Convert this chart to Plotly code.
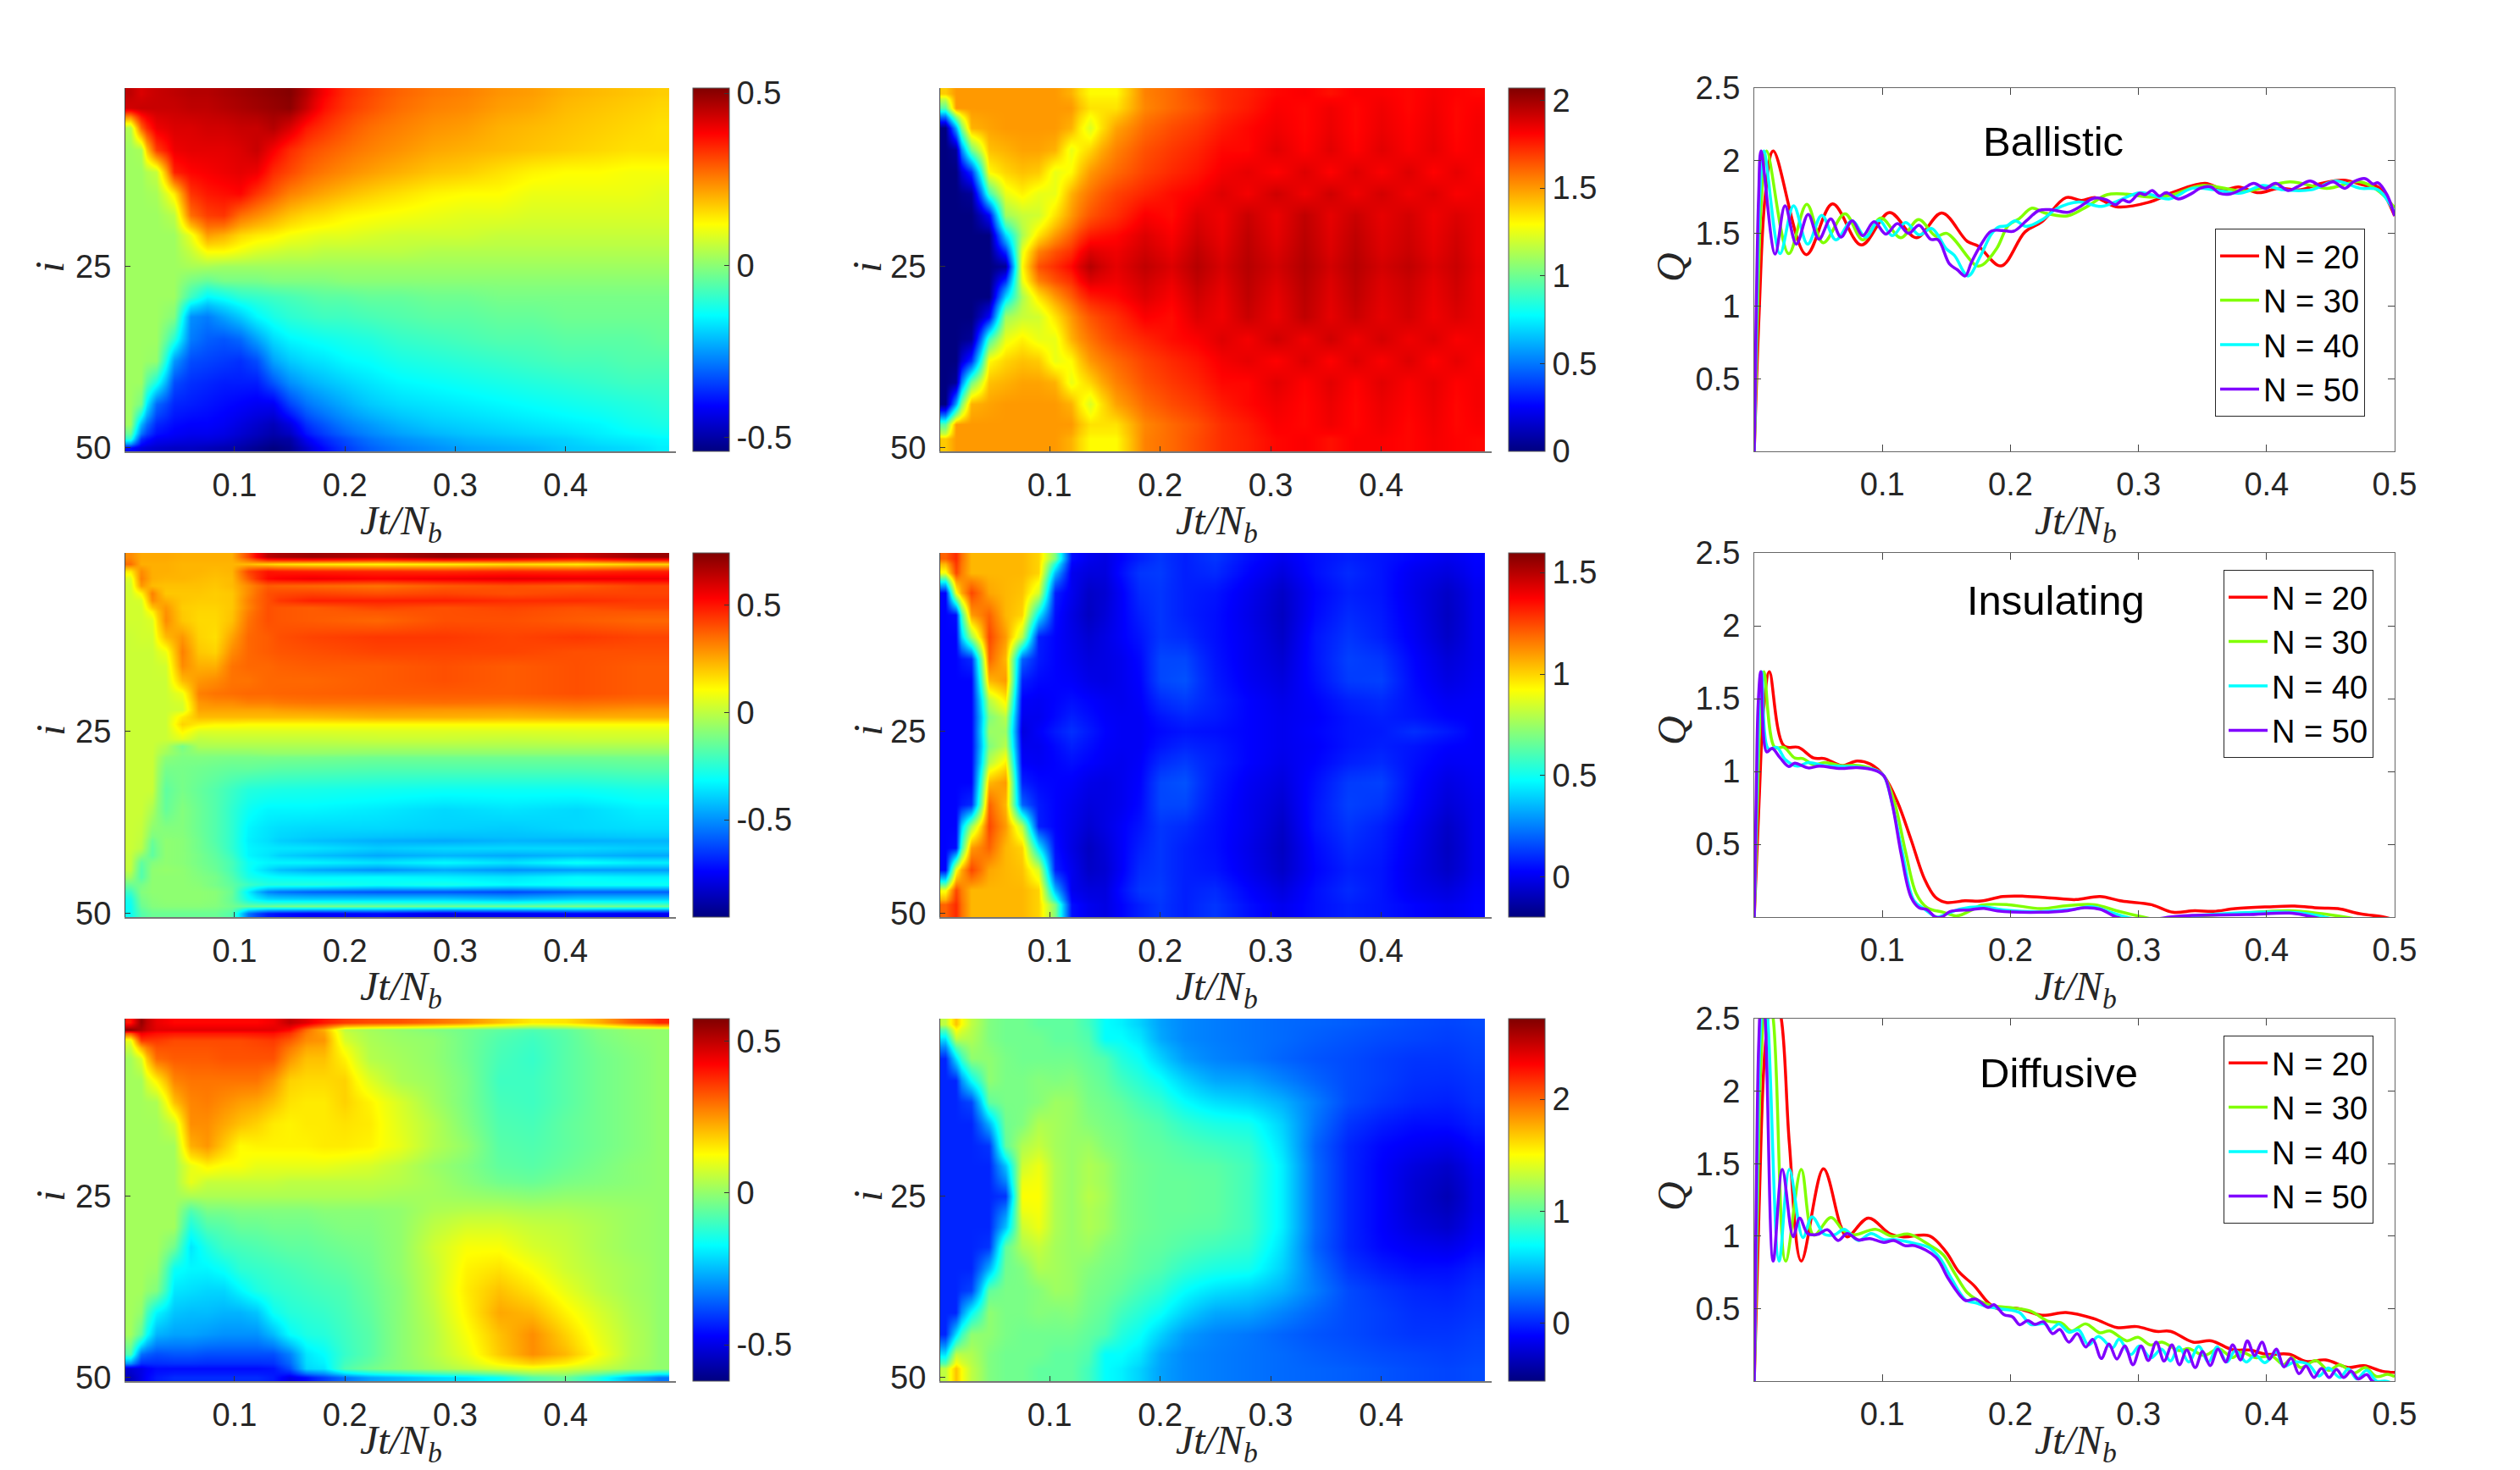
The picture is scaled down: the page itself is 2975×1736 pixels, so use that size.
import plotly.graph_objects as go

# Page and panel geometry, in pixels
W, H = 2975, 1736
ROW_SPANS = [(104, 533), (653, 1083), (1203, 1631)]
MAP_COLS = [(148, 798), (1110, 1761)]
CBAR_LEFT = [818, 1781]
LINE_COL = (2071, 2827)
X_TITLE_ROWS = [618, 1168, 1704]
X_TITLE_COLS = [473, 1436, 2450]
Y_TITLE_ROWS = [316, 863, 1413]
Y_TITLE_COLS = [59, 1024, 1973]

SANS = "Liberation Sans"
SERIF = "Liberation Serif"
INK = "#262626"

# Bin edges of the colour maps (time, then site)
TIME_EDGES = [.001, .01, .02, .0375, .0525, .0675, .0825, .0975, .1125, .1275, .1425, .1575, .1725,
              .19, .21, .235, .265, .295, .325, .355, .385, .415, .445, .475, .494]
BAL_Q_TIME_EDGES = [.001, .01, .02, .0375, .0525, .0675, .0825, .0975, .1125, .127, .147, .1735, .1985,
                    .222, .245, .267, .2915, .3185, .343, .365, .388, .4125, .436, .458, .478, .494]
SITE_EDGES = [.5, 2, 4.5, 7.5, 10.5, 13.5, 16.5, 19.5, 22, 24, 26, 28, 30.5, 33.5, 36.5, 39.5, 42.5, 45.5, 48, 49.5, 50.5]

INS_TIME_EDGES = [.001, .01, .02, .03, .045, .06, .075, .09, .105, .12, .14, .2, .26, .32, .38, .44, .494]
INS_SITE_EDGES = [.5, 1.5, 2.5, 3.5, 4.5, 5.5, 6.5, 7.5, 8.5, 11, 13, 15, 17, 19, 20.5, 21.5, 22.5, 23.5, 24.5, 25.5,
                  26.5, 27.5, 28.5, 31.5, 34.5, 37, 39.5, 40.5, 41.5, 42.5, 43.5, 44.5, 45.5, 46.5, 47.5, 48.5, 49.5, 50.5]
DIF_SITE_EDGES = [.5, 1.5, 2.5, 4.5, 7.5, 10.5, 13.5, 16.5, 19.5, 22, 24, 26, 28, 30.5, 33.5, 36.5, 39.5, 42.5, 45.5, 48, 49.5, 50.5]

# Colour map values, in hundredths
MAP_BALLISTIC_LEFT = [
    [45, 42, 44, 45, 46, 46, 47, 48, 49, 50, 51, 46, 39, 34, 31, 28, 26, 25, 23, 22, 20, 19, 18, 17],
    [43, 44, 44, 44, 45, 45, 46, 47, 48, 49, 50, 44, 37, 33, 30, 27, 25, 24, 22, 21, 19, 18, 17, 16],
    [4, 28, 40, 42, 42, 43, 43, 44, 44, 46, 42, 36, 33, 30, 27, 25, 23, 22, 20, 19, 18, 17, 16, 15],
    [2, 3, 32, 40, 41, 41, 41, 42, 44, 39, 34, 31, 29, 27, 25, 23, 21, 20, 19, 18, 17, 16, 15, 15],
    [2, 2, 6, 35, 38, 39, 40, 41, 40, 34, 31, 28, 26, 24, 22, 20, 18, 17, 15, 13, 12, 12, 11, 11],
    [2, 2, 3, 14, 33, 36, 37, 38, 33, 29, 25, 23, 21, 19, 17, 15, 13, 12, 12, 10, 10, 10, 10, 9],
    [2, 2, 2, 5, 27, 32, 33, 27, 24, 21, 18, 16, 15, 13, 12, 11, 10, 9, 9, 8, 8, 8, 8, 8],
    [2, 2, 2, 2, 10, 22, 20, 16, 14, 13, 11, 10, 9, 9, 8, 7, 7, 7, 6, 6, 6, 6, 6, 6],
    [2, 2, 2, 2, 6, 12, 12, 10, 8, 7, 6, 6, 5, 5, 5, 5, 4, 4, 4, 4, 4, 4, 4, 4],
    [2, 2, 2, 2, 3, 3, 2, 2, 2, 2, 2, 2, 2, 2, 2, 2, 2, 2, 2, 2, 2, 2, 2, 2],
    [2, 2, 2, 2, -2, -4, -2, -2, -2, -1, -1, -1, -1, 0, 0, 0, 0, 0, 0, 0, 0, 0, 0, 0],
    [2, 2, 2, 2, -8, -15, -13, -10, -9, -8, -7, -6, -5, -5, -4, -4, -3, -3, -2, -2, -2, -2, -2, -2],
    [2, 2, 2, -1, -26, -28, -24, -20, -15, -12, -10, -9, -8, -8, -7, -6, -5, -5, -4, -4, -3, -3, -3, -3],
    [2, 2, 2, -10, -28, -31, -32, -30, -24, -18, -15, -14, -13, -12, -11, -9, -8, -7, -6, -6, -5, -5, -5, -4],
    [2, 2, 1, -25, -33, -34, -35, -36, -33, -24, -20, -18, -17, -15, -14, -12, -11, -10, -9, -8, -7, -7, -6, -6],
    [2, 2, -12, -33, -36, -37, -38, -38, -38, -32, -26, -23, -21, -19, -17, -15, -14, -13, -12, -11, -10, -9, -8, -8],
    [2, -2, -30, -37, -38, -39, -40, -41, -42, -42, -34, -29, -26, -23, -20, -18, -17, -16, -15, -14, -13, -12, -11, -10],
    [2, -22, -37, -40, -41, -41, -42, -44, -46, -48, -44, -36, -32, -28, -25, -22, -20, -19, -18, -17, -16, -15, -13, -12],
    [-10, -36, -42, -43, -44, -44, -45, -47, -49, -51, -50, -42, -37, -33, -29, -26, -24, -22, -21, -20, -19, -17, -16, -15],
    [-40, -44, -46, -47, -47, -48, -49, -50, -52, -54, -52, -46, -40, -35, -31, -28, -26, -24, -23, -22, -20, -19, -18, -16],
]

# Upper half plus centre row; these maps are mirror-symmetric about the centre site
MAP_BALLISTIC_Q_UPPER = [
    [140, 150, 150, 150, 150, 150, 150, 150, 145, 130, 130, 155, 160, 166, 172, 175, 180, 182, 178, 182, 182, 180, 183, 181, 180],
    [95, 150, 150, 150, 150, 150, 150, 150, 150, 135, 135, 154, 160, 165, 172, 176, 182, 180, 184, 180, 184, 180, 184, 180, 182],
    [0, 60, 145, 148, 150, 150, 150, 150, 145, 122, 148, 160, 166, 170, 176, 180, 184, 180, 185, 180, 185, 181, 185, 180, 183],
    [0, 5, 100, 142, 145, 148, 148, 145, 125, 138, 155, 165, 170, 174, 180, 180, 187, 181, 187, 181, 187, 182, 186, 181, 183],
    [0, 0, 35, 130, 138, 142, 140, 125, 130, 150, 160, 168, 173, 177, 183, 186, 181, 188, 181, 188, 182, 188, 181, 186, 182],
    [0, 0, 5, 90, 125, 132, 125, 125, 145, 158, 168, 174, 179, 182, 188, 183, 191, 184, 191, 184, 190, 184, 188, 182, 184],
    [0, 0, 0, 25, 110, 118, 120, 135, 150, 164, 172, 182, 179, 188, 184, 192, 185, 194, 186, 192, 186, 190, 184, 188, 185],
    [0, 0, 0, 0, 70, 112, 135, 150, 162, 176, 180, 188, 182, 191, 185, 194, 186, 195, 187, 194, 187, 191, 185, 190, 185],
    [0, 0, 0, 0, 35, 125, 155, 165, 172, 188, 184, 191, 185, 194, 187, 195, 188, 196, 188, 195, 188, 192, 186, 191, 185],
    [0, 0, 0, 0, 5, 130, 165, 172, 180, 196, 186, 194, 188, 196, 189, 196, 190, 197, 190, 196, 190, 194, 188, 192, 186],
]

MAP_INSULATING_LEFT = [
    [30, 25, 25, 25, 24, 24, 24, 24, 42, 65, 70, 66, 72, 68, 62, 70],
    [35, 24, 24, 24, 23, 23, 23, 23, 22, 18, 14, 12, 13, 16, 14, 18],
    [14, 30, 24, 24, 23, 23, 22, 23, 42, 50, 48, 47, 46, 47, 46, 48],
    [5, 32, 24, 23, 23, 22, 21, 22, 38, 52, 56, 54, 56, 58, 57, 56],
    [3, 28, 22, 21, 21, 21, 20, 22, 30, 38, 36, 34, 38, 40, 38, 42],
    [3, 12, 32, 20, 20, 20, 19, 20, 30, 40, 42, 40, 42, 40, 42, 42],
    [3, 4, 30, 24, 20, 19, 19, 20, 32, 40, 48, 48, 48, 46, 46, 44],
    [3, 3, 20, 28, 19, 18, 18, 20, 31, 40, 38, 42, 40, 42, 40, 42],
    [3, 3, 5, 30, 20, 17, 17, 21, 34, 40, 38, 36, 40, 40, 38, 36],
    [2, 3, 3, 22, 28, 18, 16, 26, 36, 38, 42, 44, 44, 42, 44, 42],
    [2, 2, 2, 8, 32, 20, 18, 30, 36, 38, 40, 42, 42, 42, 40, 40],
    [2, 2, 2, 3, 30, 24, 24, 34, 36, 36, 38, 38, 40, 38, 40, 38],
    [2, 2, 2, 2, 22, 28, 30, 34, 34, 36, 36, 38, 40, 38, 40, 38],
    [2, 2, 2, 2, 8, 32, 34, 35, 36, 36, 37, 38, 38, 38, 40, 38],
    [2, 2, 2, 2, 4, 28, 30, 30, 32, 32, 34, 34, 35, 34, 35, 34],
    [2, 2, 2, 2, 3, 26, 26, 26, 26, 26, 28, 29, 28, 28, 30, 28],
    [2, 2, 2, 2, 14, 22, 22, 22, 22, 22, 22, 24, 24, 23, 24, 24],
    [2, 2, 2, 2, 18, 14, 12, 12, 11, 11, 11, 11, 11, 11, 11, 11],
    [2, 2, 2, 2, 12, 5, 5, 5, 5, 5, 5, 5, 5, 5, 5, 5],
    [2, 2, 2, 2, 6, 0, 1, 1, 1, 1, 1, 2, 2, 1, 2, 2],
    [2, 2, 2, -2, -12, -3, -3, -3, -3, -3, -3, -3, -3, -3, -3, -3],
    [2, 2, 2, -5, -10, -8, -8, -8, -8, -7, -7, -8, -8, -8, -8, -8],
    [2, 2, 2, -12, -12, -13, -14, -15, -15, -16, -17, -18, -18, -18, -18, -17],
    [2, 2, 2, -16, -12, -15, -18, -22, -26, -27, -28, -29, -30, -30, -30, -28],
    [2, 2, -3, -15, -10, -14, -18, -24, -30, -33, -33, -35, -38, -36, -38, -34],
    [2, 1, -8, -10, -10, -14, -18, -24, -33, -36, -38, -38, -39, -40, -38, -37],
    [2, 0, -14, -8, -9, -13, -18, -24, -34, -37, -42, -45, -46, -44, -45, -44],
    [2, -1, -16, -8, -9, -13, -17, -24, -33, -35, -36, -40, -38, -38, -38, -40],
    [1, -8, -16, -8, -9, -12, -16, -22, -33, -36, -42, -46, -44, -46, -44, -46],
    [1, -16, -10, -8, -9, -12, -15, -20, -30, -33, -33, -36, -32, -36, -30, -34],
    [0, -18, -8, -7, -8, -11, -14, -20, -30, -38, -46, -50, -46, -50, -48, -48],
    [-5, -18, -8, -8, -8, -10, -12, -18, -28, -31, -33, -32, -34, -36, -32, -34],
    [-14, -12, -8, -8, -8, -9, -12, -16, -22, -26, -26, -30, -28, -32, -30, -30],
    [-22, -10, -8, -8, -8, -8, -9, -14, -34, -52, -58, -60, -60, -62, -58, -58],
    [-28, -12, -9, -8, -8, -8, -9, -15, -30, -38, -40, -40, -40, -44, -40, -40],
    [-30, -14, -10, -9, -9, -9, -10, -13, -15, -14, -12, -13, -14, -14, -12, -14],
    [-30, -18, -14, -14, -14, -14, -14, -18, -55, -70, -75, -73, -78, -76, -74, -76],
]

MAP_INSULATING_Q_UPPER = [
    [120, 130, 105, 105, 105, 105, 100, 70, 5, 0, -2, 3, 8, 12, 8, 12, 5, 0, 5, 8, 6, 3, 0, 3],
    [90, 125, 105, 105, 105, 105, 100, 35, 0, -3, -3, 5, 12, 13, 8, 10, 3, -3, 5, 10, 6, 0, -3, 2],
    [3, 90, 125, 108, 105, 103, 85, 8, 0, -7, -5, 2, 10, 12, 8, 6, 0, -7, 3, 8, 6, -1, -7, 0],
    [3, 5, 110, 120, 105, 100, 45, 5, -2, -8, -4, 2, 8, 12, 8, 5, -1, -8, 4, 10, 7, 0, -8, 0],
    [3, 3, 75, 125, 110, 80, 8, 3, -1, -5, -2, 2, 6, 12, 10, 5, 0, -7, 6, 12, 8, 1, -7, 0],
    [3, 3, 10, 120, 105, 20, 7, 3, 0, -3, -2, 0, 4, 15, 15, 6, 0, -5, 6, 14, 12, 3, -4, 0],
    [3, 3, 3, 105, 110, 8, 4, 3, 2, -1, -2, 0, 3, 15, 17, 7, 1, -3, 5, 13, 14, 4, -2, 1],
    [3, 3, 3, 80, 95, 2, 1, 3, 5, 3, 1, 0, 2, 10, 13, 8, 3, -1, 3, 8, 10, 5, 1, 2],
    [3, 3, 3, 70, 80, 0, 0, 4, 8, 5, 2, 1, 1, 6, 9, 7, 3, 0, 2, 6, 8, 6, 3, 2],
    [3, 3, 3, 75, 75, -3, 2, 7, 11, 7, 3, 1, 1, 4, 6, 5, 3, 0, 3, 6, 7, 11, 7, 2],
]

MAP_DIFFUSIVE_LEFT = [
    [40, 55, 45, 42, 42, 42, 42, 42, 42, 44, 50, 46, 40, 36, 34, 33, 30, 26, 20, 15, 16, 22, 32, 38],
    [56, 52, 46, 46, 46, 46, 46, 46, 46, 46, 42, 30, 22, 5, 2, 0, -2, -4, -6, -8, -6, -2, 0, 0],
    [10, 36, 36, 34, 34, 34, 34, 34, 35, 36, 32, 26, 25, 8, 3, 1, 0, -4, -8, -10, -7, -3, -1, 0],
    [2, 8, 30, 32, 32, 32, 33, 33, 33, 33, 25, 20, 20, 14, 4, 2, 0, -4, -9, -11, -7, -4, -2, 0],
    [2, 2, 14, 27, 29, 29, 29, 29, 29, 25, 18, 17, 17, 18, 9, 3, 1, -3, -10, -10, -7, -4, -2, 0],
    [2, 2, 3, 20, 27, 28, 26, 24, 23, 20, 16, 15, 15, 18, 14, 8, 2, -3, -9, -10, -7, -4, -2, 0],
    [2, 2, 2, 7, 26, 26, 23, 20, 18, 15, 14, 15, 15, 16, 15, 9, 4, -2, -8, -9, -6, -4, -2, 0],
    [2, 2, 2, 2, 22, 25, 19, 13, 14, 14, 14, 14, 15, 15, 14, 10, 4, 0, -7, -8, -6, -4, -2, 0],
    [2, 2, 2, 2, 10, 14, 12, 12, 10, 10, 10, 10, 10, 9, 8, 5, 1, -2, -6, -7, -5, -3, -1, 0],
    [2, 2, 2, 2, 10, 6, 6, 6, 6, 6, 5, 5, 5, 5, 5, 4, 2, -1, -4, -5, -3, -2, -1, 0],
    [2, 2, 2, 2, 3, 3, 3, 3, 3, 3, 3, 3, 3, 3, 3, 2, 2, 1, 0, -1, 0, 0, 0, 0],
    [2, 2, 2, 2, -8, -3, -3, -2, -2, -2, -2, -2, -1, -1, -1, 0, 3, 4, 4, 3, 3, 2, 1, 0],
    [2, 2, 2, 2, -14, -8, -7, -5, -5, -4, -4, -4, -3, -2, -2, 0, 5, 8, 8, 6, 5, 3, 1, 0],
    [2, 2, 2, -4, -20, -14, -10, -9, -8, -7, -6, -6, -5, -4, -3, 0, 7, 12, 12, 8, 6, 3, 1, 0],
    [2, 2, 1, -16, -18, -18, -16, -12, -11, -10, -9, -8, -7, -6, -4, 0, 6, 14, 16, 12, 7, 4, 2, 0],
    [2, 2, -2, -20, -21, -22, -22, -18, -14, -12, -11, -10, -9, -8, -5, -1, 6, 15, 20, 16, 10, 5, 2, 0],
    [2, 0, -18, -24, -25, -25, -26, -26, -24, -16, -13, -12, -11, -9, -6, -1, 5, 14, 23, 21, 14, 8, 3, 0],
    [2, -6, -26, -28, -28, -29, -30, -30, -30, -25, -17, -14, -13, -10, -7, -1, 4, 12, 20, 26, 18, 10, 4, 0],
    [-8, -34, -38, -37, -37, -38, -38, -38, -38, -38, -32, -20, -17, -11, -7, -1, 4, 10, 19, 26, 21, 12, 4, 0],
    [-52, -50, -46, -46, -46, -46, -46, -46, -46, -45, -38, -22, -20, -8, -4, -1, 2, 5, 8, 10, 8, 5, 2, 0],
    [-55, -50, -44, -42, -42, -42, -42, -42, -42, -44, -50, -46, -40, -34, -28, -25, -22, -20, -16, -8, -5, -14, -26, -33],
]

MAP_DIFFUSIVE_Q_UPPER = [
    [130, 170, 130, 110, 105, 105, 100, 100, 100, 90, 70, 65, 55, 40, 32, 28, 25, 22, 20, 18, 15, 12, 10, 12],
    [60, 130, 125, 110, 105, 105, 105, 100, 100, 95, 70, 70, 62, 42, 32, 28, 25, 22, 18, 15, 12, 10, 8, 10],
    [0, 60, 115, 115, 108, 105, 105, 105, 105, 100, 95, 80, 72, 55, 38, 30, 26, 20, 15, 12, 8, 5, 5, 8],
    [0, 0, 70, 115, 108, 108, 112, 110, 112, 105, 100, 90, 82, 72, 55, 42, 40, 30, 20, 12, 8, 3, 2, 5],
    [0, 0, 10, 100, 108, 108, 112, 120, 118, 108, 105, 100, 92, 85, 70, 60, 55, 45, 28, 12, 5, 0, -2, 3],
    [0, 0, 0, 45, 105, 110, 125, 122, 118, 112, 108, 105, 100, 95, 85, 78, 75, 55, 25, 5, -3, -8, -8, -2],
    [0, 0, 0, 5, 100, 125, 132, 122, 118, 120, 112, 108, 102, 100, 95, 90, 85, 60, 20, 0, -10, -15, -18, -10],
    [0, 0, 0, 0, 50, 135, 145, 125, 118, 125, 120, 110, 105, 102, 100, 98, 90, 65, 22, 0, -12, -22, -28, -15],
    [0, 0, 0, 0, 30, 145, 148, 125, 118, 125, 120, 110, 105, 102, 102, 100, 90, 65, 22, 0, -12, -25, -32, -18],
    [0, 0, 0, 0, 5, 150, 150, 125, 118, 128, 122, 110, 105, 102, 102, 100, 90, 65, 22, 0, -12, -25, -35, -18],
]

# Q(Jt/Nb) curves: (Jt/Nb, Q) samples for each system size
BALLISTIC_N20 = [(0, 0), (.0038, .95), (.0085, 1.75), (.0148, 2.067), (.0406, 1.354), (.0611, 1.703), (.0836, 1.42), (.1056, 1.643), (.1265, 1.47), (.1464, 1.64), (.1663, 1.445), (.175, 1.412), (.1927, 1.276), (.2114, 1.51), (.2246, 1.58), (.2434, 1.746), (.2555, 1.727), (.2665, 1.746), (.2827, 1.683), (.308, 1.714), (.329, 1.79), (.352, 1.844), (.367, 1.8), (.378, 1.82), (.394, 1.78), (.409, 1.81), (.426, 1.8), (.443, 1.844), (.46, 1.866), (.477, 1.83), (.487, 1.82), (.5, 1.62)]
BALLISTIC_N30 = [(0, 0), (.0025, .95), (.0057, 1.75), (.0097, 2.067), (.0269, 1.36), (.041, 1.7), (.0538, 1.435), (.0708, 1.635), (.0847, 1.455), (.099, 1.605), (.1144, 1.47), (.1283, 1.595), (.142, 1.48), (.1504, 1.5), (.1735, 1.277), (.1783, 1.284), (.1894, 1.397), (.1982, 1.553), (.207, 1.602), (.2169, 1.674), (.2269, 1.64), (.2445, 1.62), (.2599, 1.685), (.2753, 1.766), (.2908, 1.77), (.3084, 1.75), (.3239, 1.76), (.35, 1.83), (.384, 1.79), (.418, 1.855), (.447, 1.81), (.473, 1.855), (.489, 1.78), (.5, 1.676)]
BALLISTIC_N40 = [(0, 0), (.0019, .95), (.0043, 1.75), (.0075, 2.067), (.0201, 1.36), (.0307, 1.69), (.0417, 1.426), (.0527, 1.625), (.0637, 1.455), (.0763, 1.587), (.087, 1.474), (.0975, 1.59), (.1078, 1.484), (.1182, 1.575), (.1287, 1.49), (.1387, 1.533), (.1497, 1.396), (.1563, 1.348), (.1669, 1.207), (.1762, 1.337), (.185, 1.493), (.1905, 1.543), (.1971, 1.552), (.2037, 1.587), (.2125, 1.548), (.2258, 1.6), (.2357, 1.668), (.2533, 1.716), (.2709, 1.685), (.282, 1.716), (.3018, 1.78), (.3239, 1.737), (.342, 1.81), (.359, 1.8), (.38, 1.777), (.397, 1.83), (.413, 1.8), (.435, 1.8), (.454, 1.86), (.473, 1.81), (.487, 1.8), (.5, 1.643)]
BALLISTIC_N50 = [(0, 0), (.0015, .95), (.0034, 1.75), (.0053, 2.067), (.0163, 1.358), (.024, 1.69), (.0329, 1.426), (.0421, 1.63), (.0505, 1.46), (.0597, 1.6), (.0677, 1.474), (.0765, 1.587), (.0847, 1.484), (.0935, 1.58), (.1028, 1.495), (.1118, 1.567), (.1206, 1.5), (.1287, 1.556), (.1376, 1.46), (.1435, 1.456), (.1524, 1.29), (.1585, 1.25), (.1647, 1.207), (.1695, 1.3), (.1772, 1.425), (.185, 1.515), (.1938, 1.52), (.2026, 1.515), (.2125, 1.587), (.2224, 1.658), (.2323, 1.662), (.2445, 1.645), (.2533, 1.678), (.2654, 1.742), (.2753, 1.73), (.282, 1.697), (.2875, 1.73), (.2931, 1.716), (.3008, 1.776), (.3052, 1.766), (.3107, 1.795), (.3162, 1.757), (.3217, 1.78), (.331, 1.737), (.342, 1.777), (.348, 1.81), (.3565, 1.82), (.363, 1.777), (.372, 1.772), (.382, 1.81), (.39, 1.844), (.399, 1.81), (.407, 1.844), (.417, 1.795), (.424, 1.82), (.434, 1.86), (.443, 1.826), (.452, 1.855), (.461, 1.81), (.468, 1.855), (.477, 1.877), (.483, 1.84), (.487, 1.848), (.494, 1.766), (.5, 1.62)]

INSULATING_N20 = [(0, 0), (.0038, .8), (.0075, 1.45), (.0118, 1.684), (.0232, 1.175), (.0346, 1.165), (.0464, 1.092), (.0549, 1.088), (.0684, 1.04), (.0802, 1.071), (.0907, 1.05), (.1013, .968), (.1118, .791), (.1224, .532), (.1329, .262), (.1414, .137), (.1498, .1), (.1646, .112), (.1772, .11), (.1941, .141), (.211, .143), (.2321, .131), (.2511, .12), (.27, .141), (.2869, .11), (.3101, .085), (.327, .033), (.3439, .044), (.3586, .039), (.3755, .058), (.4008, .07), (.4219, .075), (.4409, .062), (.4557, .058), (.4726, .023), (.4916, 0), (.5, -.02)]
INSULATING_N30 = [(0, 0), (.0025, .8), (.005, 1.45), (.0076, 1.684), (.016, 1.165), (.0232, 1.165), (.0316, 1.092), (.038, 1.088), (.0464, 1.046), (.0549, 1.061), (.0675, 1.04), (.0823, 1.04), (.0949, 1.009), (.1013, .968), (.1097, .781), (.1181, .449), (.1266, .158), (.135, .064), (.1477, .033), (.1582, .008), (.1688, .044), (.1772, .081), (.1983, .085), (.2236, .058), (.2447, .079), (.2658, .085), (.2827, .044), (.3038, 0), (.322, -.03), (.3418, .002), (.3755, .023), (.4177, .044), (.443, .023), (.4612, 0), (.48, -.03)]
INSULATING_N40 = [(0, 0), (.0019, .8), (.0038, 1.45), (.0059, 1.684), (.011, 1.156), (.0177, 1.165), (.0245, 1.079), (.0338, 1.036), (.0422, 1.061), (.0549, 1.04), (.0802, 1.03), (.0949, 1.009), (.1013, .968), (.1076, .781), (.116, .428), (.1245, .116), (.1329, .054), (.1426, 0), (.1477, .012), (.1603, .054), (.1772, .071), (.1941, .05), (.2236, .037), (.2489, .054), (.2637, .071), (.2785, .033), (.2903, 0), (.31, -.03), (.3333, 0), (.3671, .023), (.4177, .033), (.4346, .019), (.4451, 0), (.46, -.03)]
INSULATING_N50 = [(0, 0), (.0015, .8), (.003, 1.45), (.0051, 1.684), (.0097, 1.134), (.0139, 1.158), (.0203, 1.092), (.027, 1.034), (.0316, 1.057), (.0422, 1.024), (.0506, 1.036), (.0675, 1.02), (.0802, 1.026), (.0949, 1.005), (.1013, .968), (.1076, .781), (.1148, .428), (.1224, .137), (.1287, .064), (.135, .05), (.1414, 0), (.1464, 0), (.1527, .037), (.1688, .05), (.1793, .06), (.1899, .042), (.2236, .033), (.2447, .044), (.2574, .064), (.27, .054), (.2827, 0), (.3, -.03), (.3241, 0), (.3418, .012), (.384, .017), (.4177, .027), (.4304, .012), (.4367, 0), (.45, -.03)]

DIFFUSIVE_N20 = [(0, 0), (.0038, 1.2), (.0085, 2.3), (.0148, 2.72), (.0211, 2.5), (.0274, 1.64), (.0367, .828), (.054, 1.464), (.0675, 1.07), (.0725, .995), (.0891, 1.125), (.1056, 1.018), (.1166, .995), (.1365, 1.003), (.1497, .892), (.1596, .755), (.1717, .658), (.1827, .541), (.1905, .497), (.2048, .503), (.2246, .454), (.2434, .473), (.2654, .43), (.2831, .37), (.2985, .376), (.3139, .343), (.325, .343), (.3426, .269), (.3569, .278), (.3735, .216), (.3867, .214), (.4, .185), (.4176, .185), (.4308, .136), (.4462, .146), (.4639, .094), (.476, .107), (.4904, .068), (.5, .06)]
DIFFUSIVE_N30 = [(0, 0), (.0025, 1.2), (.0057, 2.3), (.0099, 2.72), (.0148, 2.5), (.0245, .828), (.0367, 1.46), (.0464, 1.007), (.0599, 1.129), (.0696, 1.038), (.078, 1.009), (.0946, 1.047), (.1078, .999), (.1206, 1.014), (.1365, .94), (.1475, .872), (.1563, .746), (.1663, .61), (.174, .56), (.185, .522), (.1982, .508), (.2158, .483), (.2291, .414), (.2401, .4), (.2478, .346), (.2588, .395), (.2698, .333), (.2776, .346), (.2908, .278), (.2996, .302), (.3095, .249), (.3183, .269), (.3316, .21), (.3393, .224), (.3514, .177), (.3625, .224), (.3735, .162), (.3801, .2), (.3911, .162), (.4044, .171), (.4132, .113), (.4198, .162), (.4264, .093), (.4385, .142), (.4484, .074), (.4572, .113), (.4683, .055), (.4771, .093), (.486, .031), (.4947, .047), (.5, .031)]
DIFFUSIVE_N40 = [(0, 0), (.0019, 1.2), (.0043, 2.3), (.0075, 2.72), (.0105, 2.5), (.0194, .828), (.0274, 1.46), (.038, .99), (.0451, 1.133), (.0549, 1.012), (.0626, 1.009), (.0703, 1.047), (.0813, .97), (.0912, 1.018), (.1012, .976), (.11, .976), (.1254, .95), (.1365, .921), (.1453, .843), (.1541, .706), (.1651, .56), (.174, .537), (.1827, .512), (.1938, .497), (.207, .473), (.2158, .391), (.2269, .395), (.2313, .356), (.2379, .395), (.2456, .337), (.2533, .352), (.261, .249), (.2687, .308), (.2798, .23), (.2848, .289), (.294, .182), (.3007, .243), (.3095, .16), (.318, .22), (.325, .138), (.3316, .236), (.3393, .132), (.347, .24), (.3547, .132), (.3613, .236), (.369, .132), (.3757, .21), (.3841, .132), (.3911, .18), (.3988, .127), (.4076, .2), (.4132, .103), (.422, .132), (.433, .113), (.4408, .035), (.4484, .09), (.4572, .025), (.4639, .084), (.4705, .015), (.4782, .074), (.486, 0), (.4925, 0), (.5, -.02)]
DIFFUSIVE_N50 = [(0, 0), (.0015, 1.2), (.0034, 2.3), (.0059, 2.72), (.0085, 2.5), (.0148, .828), (.0219, 1.46), (.0304, .996), (.0355, 1.125), (.0417, 1.018), (.0494, 1.012), (.0571, 1.044), (.0655, .97), (.0725, 1.018), (.0813, .974), (.0902, .983), (.1012, .957), (.1089, .97), (.1177, .934), (.1254, .934), (.142, .853), (.1508, .717), (.1607, .59), (.1651, .555), (.1729, .566), (.1827, .508), (.1871, .527), (.1949, .459), (.2015, .444), (.2074, .389), (.2136, .418), (.2191, .391), (.2258, .409), (.233, .327), (.2386, .356), (.2456, .269), (.2522, .327), (.2588, .235), (.2643, .288), (.271, .156), (.2769, .255), (.2831, .152), (.2893, .243), (.2957, .113), (.302, .243), (.3077, .142), (.3139, .269), (.32, .138), (.3261, .249), (.332, .113), (.3377, .214), (.3443, .093), (.35, .204), (.356, .107), (.3621, .22), (.3681, .132), (.3735, .249), (.3797, .146), (.385, .278), (.3907, .175), (.3964, .269), (.4022, .152), (.4076, .22), (.4136, .098), (.4193, .157), (.4253, .051), (.4308, .103), (.437, .025), (.4429, .088), (.4489, .025), (.4546, .08), (.4601, .025), (.4661, .068), (.4716, .015), (.4782, .045), (.4826, 0), (.49, -.03)]

SIZE_LABELS = ["N = 20", "N = 30", "N = 40", "N = 50"]
SIZE_COLORS = ["#ff0000", "#80ff00", "#00ffff", "#8000ff"]
REGIMES = ["Ballistic", "Insulating", "Diffusive"]
MAP_TIME_TICKS = [.1, .2, .3, .4]
LINE_TIME_TICKS = [.1, .2, .3, .4, .5]
Q_TICKS = [.5, 1, 1.5, 2, 2.5]
SITE_TICKS = [25, 50]


def jet_scale(levels=64):
    """Jet colour scale sampled at the given number of levels."""
    stops = []
    for k in range(levels + 1):
        t = k / levels
        r = max(0.0, min(1.0, 1.5 - abs(4 * t - 3)))
        g = max(0.0, min(1.0, 1.5 - abs(4 * t - 2)))
        b = max(0.0, min(1.0, 1.5 - abs(4 * t - 1)))
        stops.append([t, f"rgb({round(r * 255)},{round(g * 255)},{round(b * 255)})"])
    return stops


def mirrored(upper):
    """Full map from its upper half and centre row."""
    return upper + upper[-2::-1] + [upper[0]]


def hundredths(rows):
    return [[v / 100 for v in row] for row in rows]


JET = jet_scale()
fig = go.Figure()


def axis_font():
    return dict(family=SANS, size=38, color=INK)


def title_font():
    return dict(family=SERIF, size=48, color=INK, style="italic")


JT_LABEL = "Jt/N<sub>b</sub>"
axis_no = 0


def next_axes():
    global axis_no
    axis_no += 1
    return "" if axis_no == 1 else str(axis_no)


def add_axis_titles(row, col, y_text):
    """Horizontal time label under a panel and rotated label beside it."""
    fig.add_annotation(text=JT_LABEL, x=X_TITLE_COLS[col] / W, y=1 - X_TITLE_ROWS[row] / H, xref="paper", yref="paper",
                       showarrow=False, xanchor="center", yanchor="middle", font=title_font())
    fig.add_annotation(text=y_text, x=Y_TITLE_COLS[col] / W, y=1 - Y_TITLE_ROWS[row] / H, xref="paper", yref="paper",
                       showarrow=False, xanchor="center", yanchor="middle", textangle=-90, font=title_font())


def add_map(row, col, z, x_edges, y_edges, zlim, ticks, tick_labels):
    s = next_axes()
    top, bottom = ROW_SPANS[row]
    left, right = MAP_COLS[col]
    fig.add_trace(go.Heatmap(
        z=hundredths(z), x=x_edges, y=y_edges, zmin=zlim[0], zmax=zlim[1], zsmooth="best",
        colorscale=JET, xaxis="x" + s, yaxis="y" + s, showlegend=False,
        colorbar=dict(
            x=CBAR_LEFT[col] / W, xanchor="left", y=1 - top / H, yanchor="top", len=(bottom - top) / H,
            lenmode="fraction", thickness=43, thicknessmode="pixels", xpad=0, ypad=0,
            outlinewidth=1, outlinecolor="#555555", ticks="inside", ticklen=6, tickwidth=1, tickcolor="#333333",
            tickvals=ticks, ticktext=tick_labels, tickfont=axis_font()),
    ))
    fig.layout["xaxis" + s] = dict(
        domain=[left / W, right / W], range=[.001, .5], anchor="y" + s, tickvals=MAP_TIME_TICKS,
        ticktext=["0.1", "0.2", "0.3", "0.4"], ticks="inside", ticklen=6, tickcolor="#333333",
        showline=True, linecolor="#777777", linewidth=2, showgrid=False, zeroline=False, tickfont=axis_font(),
        ticklabelstandoff=5)
    fig.layout["yaxis" + s] = dict(
        domain=[1 - bottom / H, 1 - top / H], range=[50.5, .5], anchor="x" + s, tickvals=SITE_TICKS,
        ticktext=["25", "50"], ticks="inside", ticklen=6, tickcolor="#333333",
        showline=True, linecolor="#444444", linewidth=1, showgrid=False, zeroline=False, tickfont=axis_font(),
        ticklabelstandoff=8)
    add_axis_titles(row, col, "i")


def add_lines(row, curves, legend_xy):
    s = next_axes()
    top, bottom = ROW_SPANS[row]
    legend_key = "legend" + ("" if row == 0 else str(row + 1))
    for label, color, pts in zip(SIZE_LABELS, SIZE_COLORS, curves):
        fig.add_trace(go.Scatter(
            x=[p[0] for p in pts], y=[p[1] for p in pts], mode="lines", name=label,
            line=dict(color=color, width=3.5, shape="spline", smoothing=1.0),
            xaxis="x" + s, yaxis="y" + s, legend=legend_key))
    frame = dict(ticks="inside", ticklen=8, tickcolor="#444444", showline=True, linecolor="#666666", linewidth=1,
                 mirror="ticks", showgrid=False, zeroline=False, tickfont=axis_font())
    fig.layout["xaxis" + s] = dict(
        domain=[LINE_COL[0] / W, LINE_COL[1] / W], range=[0, .5], anchor="y" + s, tickvals=LINE_TIME_TICKS,
        ticktext=["0.1", "0.2", "0.3", "0.4", "0.5"], ticklabelstandoff=5, **frame)
    fig.layout["yaxis" + s] = dict(
        domain=[1 - bottom / H, 1 - top / H], range=[0, 2.5], anchor="x" + s, tickvals=Q_TICKS,
        ticktext=["0.5", "1", "1.5", "2", "2.5"], ticklabelstandoff=8, **frame)
    fig.layout[legend_key] = dict(
        x=legend_xy[0] / W, y=1 - legend_xy[1] / H, xanchor="left", yanchor="top", bgcolor="white",
        bordercolor="#262626", borderwidth=1, font=dict(family=SANS, size=38, color="black"),
        itemwidth=46, tracegroupgap=0)
    add_axis_titles(row, 2, "Q")


add_map(0, 0, MAP_BALLISTIC_LEFT, TIME_EDGES, SITE_EDGES, (-.54, .515), [-.5, 0, .5], ["-0.5", "0", "0.5"])
add_map(0, 1, mirrored(MAP_BALLISTIC_Q_UPPER), BAL_Q_TIME_EDGES, SITE_EDGES, (0, 2.07), [0, .5, 1, 1.5, 2], ["0", "0.5", "1", "1.5", "2"])
add_lines(0, [BALLISTIC_N20, BALLISTIC_N30, BALLISTIC_N40, BALLISTIC_N50], (2615, 270))
add_map(1, 0, MAP_INSULATING_LEFT, INS_TIME_EDGES, INS_SITE_EDGES, (-.953, .743), [-.5, 0, .5], ["-0.5", "0", "0.5"])
add_map(1, 1, mirrored(MAP_INSULATING_Q_UPPER), TIME_EDGES, SITE_EDGES, (-.196, 1.596), [0, .5, 1, 1.5], ["0", "0.5", "1", "1.5"])
add_lines(1, [INSULATING_N20, INSULATING_N30, INSULATING_N40, INSULATING_N50], (2625, 673))
add_map(2, 0, MAP_DIFFUSIVE_LEFT, TIME_EDGES, DIF_SITE_EDGES, (-.62, .575), [-.5, 0, .5], ["-0.5", "0", "0.5"])
add_map(2, 1, mirrored(MAP_DIFFUSIVE_Q_UPPER), TIME_EDGES, SITE_EDGES, (-.52, 2.72), [0, 1, 2], ["0", "1", "2"])
add_lines(2, [DIFFUSIVE_N20, DIFFUSIVE_N30, DIFFUSIVE_N40, DIFFUSIVE_N50], (2625, 1223))

for text, cx, cy in zip(REGIMES, [2424, 2427, 2430], [167, 709, 1267]):
    fig.add_annotation(text=text, x=cx / W, y=1 - cy / H, xref="paper", yref="paper", showarrow=False,
                       xanchor="center", yanchor="middle", font=dict(family=SANS, size=49, color="black"))

fig.update_layout(width=W, height=H, autosize=False, margin=dict(l=0, r=0, t=0, b=0, autoexpand=False),
                  paper_bgcolor="white", plot_bgcolor="white")
fig.write_html("out.html")
